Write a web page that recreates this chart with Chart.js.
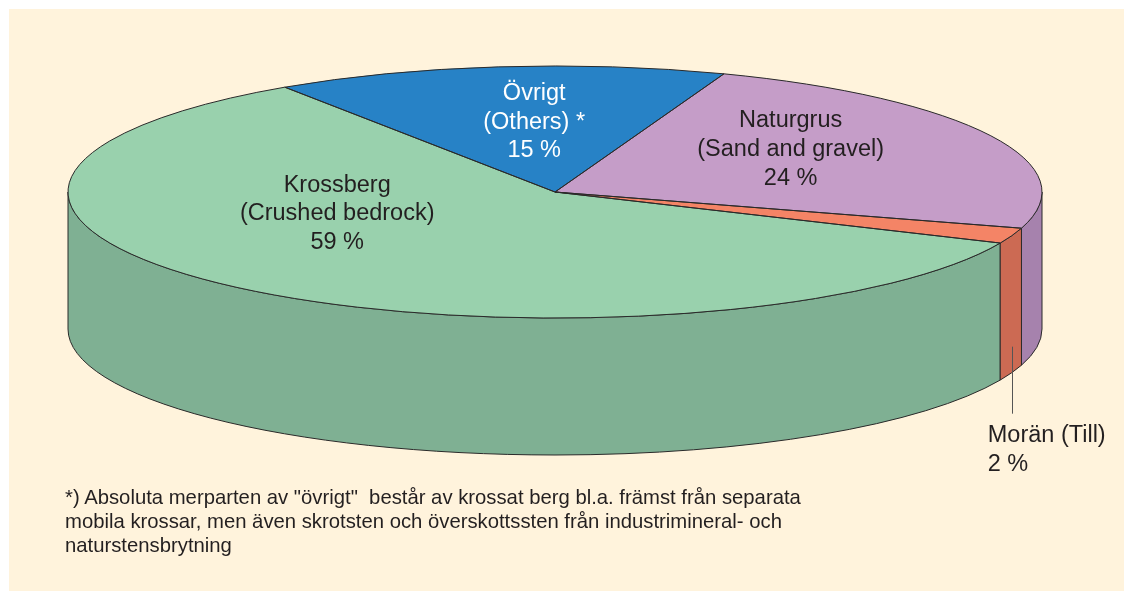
<!DOCTYPE html>
<html>
<head>
<meta charset="utf-8">
<script src="https://cdn.jsdelivr.net/npm/chart.js@4/dist/chart.umd.min.js"></script>
<style>
  html, body { margin: 0; padding: 0; background: #fff; }
  #wrap { position: relative; width: 1124px; height: 591px; }
  #note {
    position: absolute; left: 65px; top: 485px;
    font: 20.3px "Liberation Sans", Arial, sans-serif; line-height: 24px;
    color: #231f20; white-space: pre;
  }
</style>
</head>
<body>
<div id="wrap">
  <canvas id="materialChart" width="1124" height="591"></canvas>
  <div id="note">*) Absoluta merparten av "övrigt"  består av krossat berg bl.a. främst från separata
mobila krossar, men även skrotsten och överskottssten från industrimineral- och
naturstensbrytning</div>
</div>
<script>
// data
const categories = ['Krossberg', 'Övrigt', 'Naturgrus', 'Morän'];
const categoryNotes = ['(Crushed bedrock)', '(Others) *', '(Sand and gravel)', '(Till)'];
const shares = [59, 15, 24, 2];

// styling
const topColors = ['#99d1ad', '#2782c6', '#c59dc8', '#f48466'];
const sideColors = ['#7fb093', '#1f6aa3', '#a682ad', '#cc6a53'];
const labelColors = ['#231f20', '#ffffff', '#231f20', '#231f20'];
const EDGE = '#2a2a2a';
const FONT = '23.5px "Liberation Sans", Arial, sans-serif';

// where the tilted pie sits on the canvas
const CX = 555, CY = 192, RX = 487, RY = 126, DEPTH = 137;
// label spot inside each slice: angle (deg) and fraction of radius
const labelSpots = [
  { angle: 158.7, r: 0.48 },
  { angle: -94.4, r: 0.557 },
  { angle: -34.9, r: 0.59 },
  null // Morän gets an outside label
];

const pie3d = {
  id: 'pie3d',
  beforeDraw(chart) {
    const ctx = chart.ctx;
    ctx.save();
    ctx.fillStyle = '#ffffff';
    ctx.fillRect(0, 0, chart.width, chart.height);
    ctx.fillStyle = '#fff3dc';
    ctx.fillRect(9, 9, chart.width - 9, chart.height - 9);
    ctx.restore();
  },
  beforeDatasetsDraw(chart) {
    const ctx = chart.ctx;
    const arcs = chart.getDatasetMeta(0).data;

    // front walls (only the part between 0 and 180 deg is visible)
    ctx.save();
    ctx.strokeStyle = EDGE;
    ctx.lineWidth = 1;
    arcs.forEach((arc, i) => {
      const { startAngle, endAngle } = arc.getProps(['startAngle', 'endAngle'], true);
      for (let k = -1; k <= 2; k++) {
        const a = Math.max(startAngle, 2 * Math.PI * k);
        const b = Math.min(endAngle, Math.PI + 2 * Math.PI * k);
        if (b <= a) continue;
        ctx.beginPath();
        ctx.ellipse(CX, CY, RX, RY, 0, a, b);
        ctx.lineTo(CX + RX * Math.cos(b), CY + DEPTH + RY * Math.sin(b));
        ctx.ellipse(CX, CY + DEPTH, RX, RY, 0, b, a, true);
        ctx.closePath();
        ctx.fillStyle = sideColors[i];
        ctx.fill();
        ctx.stroke();
      }
    });
    ctx.restore();

    // squash the library's round pie into the top ellipse
    const a0 = arcs[0];
    const R = a0.outerRadius;
    ctx.save();
    ctx.translate(CX, CY);
    ctx.scale(RX / R, RY / R);
    ctx.translate(-a0.x, -a0.y);
  },
  afterDatasetsDraw(chart) {
    const ctx = chart.ctx;
    ctx.restore();
    const arcs = chart.getDatasetMeta(0).data;

    // slice outlines on top
    ctx.save();
    ctx.strokeStyle = EDGE;
    ctx.lineWidth = 1;
    ctx.lineJoin = 'round';
    arcs.forEach(arc => {
      const { startAngle, endAngle } = arc.getProps(['startAngle', 'endAngle'], true);
      ctx.beginPath();
      ctx.moveTo(CX, CY);
      ctx.lineTo(CX + RX * Math.cos(startAngle), CY + RY * Math.sin(startAngle));
      ctx.ellipse(CX, CY, RX, RY, 0, startAngle, endAngle);
      ctx.closePath();
      ctx.stroke();
    });

    // labels
    ctx.font = FONT;
    ctx.textBaseline = 'middle';
    const lh = 28.7;
    arcs.forEach((arc, i) => {
      const val = chart.data.datasets[0].data[i];
      const spot = labelSpots[i];
      if (spot) {
        const t = spot.angle * Math.PI / 180;
        const x = CX + RX * spot.r * Math.cos(t);
        const y = CY + RY * spot.r * Math.sin(t);
        const lines = [categories[i], categoryNotes[i], val + ' %'];
        ctx.fillStyle = labelColors[i];
        ctx.textAlign = 'center';
        lines.forEach((s, j) => ctx.fillText(s, x, y + (j - 1) * lh));
      } else {
        const { startAngle, endAngle } = arc.getProps(['startAngle', 'endAngle'], true);
        const mid = (startAngle + endAngle) / 2;
        const x = CX + RX * Math.cos(mid);
        const y0 = CY + RY * Math.sin(mid) + DEPTH * 0.81;
        const y1 = y0 + 67;
        ctx.strokeStyle = '#555';
        ctx.beginPath();
        ctx.moveTo(Math.round(x) + 0.5, y0);
        ctx.lineTo(Math.round(x) + 0.5, y1);
        ctx.stroke();
        ctx.fillStyle = labelColors[i];
        ctx.textAlign = 'left';
        ctx.fillText(categories[i] + ' ' + categoryNotes[i], x - 24, y1 + 22);
        ctx.fillText(val + ' %', x - 24, y1 + 22 + lh);
      }
    });
    ctx.restore();
  }
};

new Chart(document.getElementById('materialChart'), {
  type: 'pie',
  data: {
    labels: categories,
    datasets: [{
      data: shares,
      backgroundColor: topColors,
      borderWidth: 0
    }]
  },
  options: {
    responsive: false,
    animation: false,
    events: [],
    rotation: 113.9,
    plugins: {
      legend: { display: false },
      tooltip: { enabled: false }
    }
  },
  plugins: [pie3d]
});
</script>
</body>
</html>
